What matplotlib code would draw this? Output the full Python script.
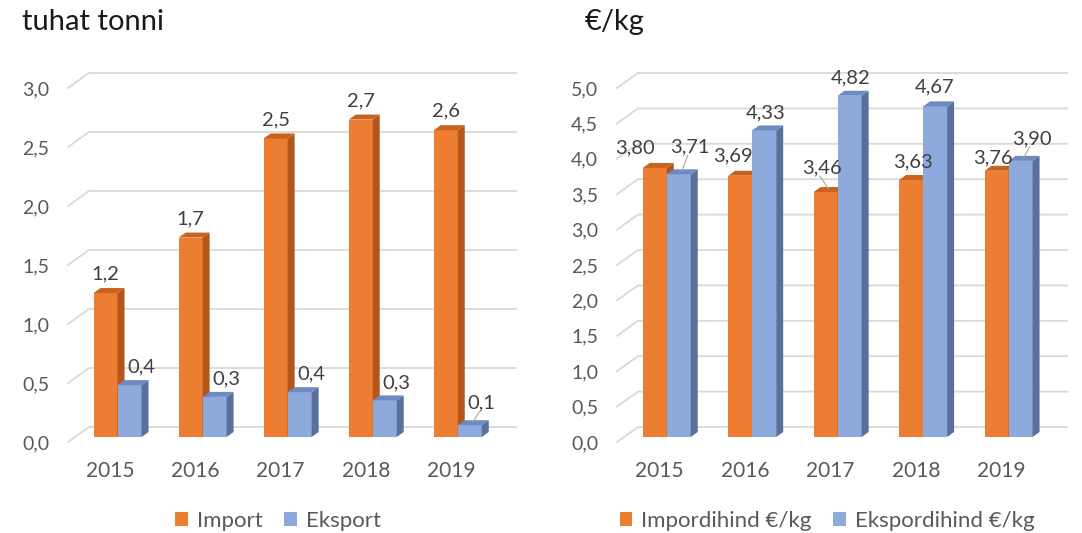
import matplotlib.pyplot as plt
from matplotlib.patches import Rectangle, Polygon, Patch

plt.rcParams['font.family'] = ['Lato', 'DejaVu Sans']

years = ["2015", "2016", "2017", "2018", "2019"]

# vasak graafik: tuhat tonni
import_t = [1.22, 1.69, 2.53, 2.69, 2.60]
eksport_t = [0.44, 0.34, 0.38, 0.31, 0.10]
import_lbl = ["1,2", "1,7", "2,5", "2,7", "2,6"]
eksport_lbl = ["0,4", "0,3", "0,4", "0,3", "0,1"]

# parem graafik: hind €/kg
import_hind = [3.80, 3.69, 3.46, 3.63, 3.76]
eksport_hind = [3.71, 4.33, 4.82, 4.67, 3.90]

ORANGE = ("#ED7D31", "#B3561C", "#C8631F")   # front, side, top
BLUE = ("#8EA9DB", "#5A6F9B", "#6E8BC0")
GRID = "#D9D9D9"
TXT = "#595959"

W, H = 1082, 533
fig = plt.figure(figsize=(W / 100, H / 100), dpi=100)
fig.patch.set_facecolor("white")

XMIN, XMAX = -0.5, 4.52
BAR_W = 24      # px
DEPTH = (7, 5)  # px, bar depth
WALL = (21, 15) # px, floor depth


def fmt(v, nd):
    return f"{v:.{nd}f}".replace(".", ",")


def draw_bar(ax, x0, val, colors, px, py):
    w = BAR_W * px
    dx, dy = DEPTH[0] * px, DEPTH[1] * py
    y0 = DEPTH[1] * py
    y1 = y0 + val
    ax.add_patch(Rectangle((x0, y0), w, val, facecolor=colors[0], edgecolor="none", zorder=3, clip_on=False))
    ax.add_patch(Polygon([(x0 + w, y0), (x0 + w, y1), (x0 + w + dx, y1 + dy), (x0 + w + dx, y0 + dy)],
                         closed=True, facecolor=colors[1], edgecolor="none", zorder=3, clip_on=False))
    ax.add_patch(Polygon([(x0, y1), (x0 + w, y1), (x0 + w + dx, y1 + dy), (x0 + dx, y1 + dy)],
                         closed=True, facecolor=colors[2], edgecolor="none", zorder=3, clip_on=False))
    return x0 + w / 2, y1


def panel(rect_px, ymax, yticks, a_vals, b_vals, a_lbl, b_lbl, offs_a, offs_b):
    x0p, x1p, botp, topp = rect_px
    ax = fig.add_axes([x0p / W, (H - botp) / H, (x1p - x0p) / W, (botp - topp) / H])
    ax.set_xlim(XMIN, XMAX)
    ax.set_ylim(0, ymax)
    px = (XMAX - XMIN) / (x1p - x0p)
    py = ymax / (botp - topp)
    for s in ax.spines.values():
        s.set_visible(False)
    ax.set_facecolor("none")

    # 3D põrand / tagasein ruudustik
    for v in yticks:
        ax.plot([XMIN, XMIN + WALL[0] * px, XMAX + WALL[0] * px],
                [v, v + WALL[1] * py, v + WALL[1] * py],
                color=GRID, lw=1.3, zorder=1, clip_on=False)

    ax.set_yticks(yticks)
    ax.set_yticklabels([fmt(v, 1) for v in yticks])
    ax.set_xticks(range(len(years)))
    ax.set_xticklabels(years)
    ax.tick_params(axis="y", length=0, pad=13.5, labelsize=14, labelcolor=TXT)
    ax.tick_params(axis="x", length=0, pad=14, labelsize=15, labelcolor=TXT)

    for i in range(len(years)):
        c = i + DEPTH[0] * px
        for val, lbl, colors, start, off in [
            (a_vals[i], a_lbl[i], ORANGE, c - BAR_W * px, offs_a[i]),
            (b_vals[i], b_lbl[i], BLUE, c, offs_b[i]),
        ]:
            bx, by = draw_bar(ax, start, val, colors, px, py)
            ldx, ldy, leader = off
            tx, ty = bx + ldx * px, by + ldy * py
            ax.text(tx, ty, lbl, ha="center", va="center", fontsize=14.5,
                    color="#404040", zorder=5, clip_on=False)
            if leader:
                ax.plot([tx - 2 * px, bx + 3 * px], [ty - 8 * py, by + 3 * py],
                        color="#A6A6A6", lw=0.8, zorder=4, clip_on=False)
    return ax


# sildi nihked (px): dx, dy, juhtjoon
offs_l_a = [(0, 19, False)] * 5
offs_l_b = [(12, 18, False)] * 4 + [(12, 22, True)]
offs_r_a = [(-20, 20, False), (-7, 20, False), (-4, 24, True), (2, 18, False), (-4, 13, False)]
offs_r_b = [(11, 27, True), (1, 18, False), (1, 18, False), (-1, 19, False), (11, 22, True)]

panel((68, 495, 442, 88), 3.0, [0, 0.5, 1.0, 1.5, 2.0, 2.5, 3.0],
      import_t, eksport_t, import_lbl, eksport_lbl, offs_l_a, offs_l_b)
panel((617, 1046, 442, 88), 5.0, [0, 0.5, 1.0, 1.5, 2.0, 2.5, 3.0, 3.5, 4.0, 4.5, 5.0],
      import_hind, eksport_hind,
      [fmt(v, 2) for v in import_hind], [fmt(v, 2) for v in eksport_hind],
      offs_r_a, offs_r_b)

fig.text(22 / W, 1 - 22 / H, "tuhat tonni", fontsize=21, color="#1A1A1A", va="center", ha="left")
fig.text(585 / W, 1 - 22 / H, "€/kg", fontsize=21, color="#1A1A1A", va="center", ha="left")

for labels, cx in [(["Import", "Eksport"], 278), (["Impordihind €/kg", "Ekspordihind €/kg"], 827)]:
    handles = [Patch(facecolor=ORANGE[0], label=labels[0]), Patch(facecolor=BLUE[0], label=labels[1])]
    fig.legend(handles=handles, loc="center", bbox_to_anchor=(cx / W, 1 - 521 / H), ncol=2,
               frameon=False, fontsize=16, labelcolor=TXT, handlelength=0.55, handleheight=0.55,
               handletextpad=0.4, columnspacing=1.0)

plt.savefig("out.png", dpi=100)
plt.close()
